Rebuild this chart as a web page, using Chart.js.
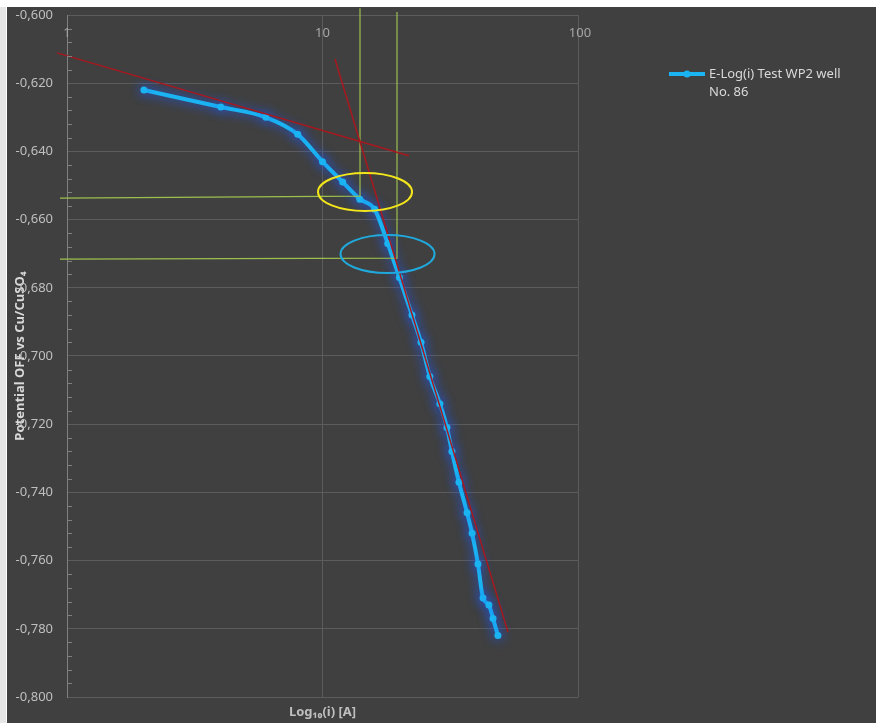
<!DOCTYPE html>
<html lang="en">
<head>
  <meta charset="UTF-8" />
  <title>E-Log(i) Test WP2 well No. 86</title>
  <script src="https://cdn.jsdelivr.net/npm/chart.js"></script>
  <style>
    html, body { margin: 0; padding: 0; background: #fff; }
    #wrap { width: 876px; height: 723px; }
  </style>
</head>
<body>
  <div id="wrap"><canvas id="grafico" width="876" height="723"></canvas></div>

  <script>
    // measured series: current (A) vs potential (V)
    const currentA = [2, 4, 6, 8, 10, 12, 14, 16, 18, 20, 22.4, 24.3, 26.3, 28.8, 30.7, 32.1, 34.2, 36.8, 38.5, 40.6, 42.5, 44.8, 46.5, 48.6];
    const potentialV = [-0.622, -0.627, -0.630, -0.635, -0.643, -0.649, -0.654, -0.657, -0.667, -0.677, -0.688, -0.696, -0.706, -0.714, -0.721, -0.728, -0.737, -0.746, -0.752, -0.761, -0.771, -0.773, -0.777, -0.782];

    // tangents (red)
    const tangentAX = [0.914, 21.8];
    const tangentAY = [-0.6111, -0.6413];
    const tangentBX = [11.19, 53.2];
    const tangentBY = [-0.6129, -0.7809];

    // guide lines (green)
    const guide1X = [0.939, 14.02, 14.02];
    const guide1Y = [-0.6537, -0.6531, -0.598];
    const guide2X = [0.939, 19.57, 19.57];
    const guide2Y = [-0.6716, -0.6713, -0.5991];

    // ellipse markers: centres in data units
    const ellipseX = [14.67, 17.97];
    const ellipseY = [-0.6519, -0.6701];
    const ellipseColors = ['#f2e51a', '#1fa9dc'];

    const xTicks = [1, 10, 100];
    const legendText = 'E-Log(i) Test WP2 well No. 86';

    const pts = (xs, ys) => xs.map((x, i) => ({ x: x, y: ys[i] }));
    const fmt = v => v.toFixed(3).replace('.', ',');
    const FONT = "'Noto Sans', sans-serif";

    const fundo = {
      id: 'fundo',
      beforeDraw(chart) {
        const ctx = chart.ctx;
        ctx.save();
        ctx.fillStyle = '#ffffff';
        ctx.fillRect(0, 0, chart.width, chart.height);
        ctx.fillStyle = '#e6e6e6';
        ctx.fillRect(0, 7, 6, chart.height);
        ctx.fillStyle = '#404040';
        ctx.fillRect(7, 7, chart.width - 7, chart.height - 7);
        ctx.restore();
      }
    };

    const brilho = {
      id: 'brilho',
      beforeDatasetDraw(chart, args) {
        if (args.index !== 0) return;
        chart.ctx.save();
        chart.ctx.shadowColor = 'rgba(30,90,255,1)';
        chart.ctx.shadowBlur = 12;
      },
      afterDatasetDraw(chart, args) {
        if (args.index !== 0) return;
        chart.ctx.restore();
      }
    };

    const extras = {
      id: 'extras',
      afterDraw(chart) {
        const ctx = chart.ctx;
        const xs = chart.scales.x, ys = chart.scales.y;
        const area = chart.chartArea;
        ctx.save();

        // minor ticks on the value axis
        ctx.strokeStyle = '#808080';
        ctx.lineWidth = 1;
        for (let k = 0; k <= 50; k++) {
          if (k % 5 === 0) continue;
          const py = Math.round(ys.getPixelForValue(-0.8 + k * 0.004)) + 0.5;
          ctx.beginPath();
          ctx.moveTo(area.left, py);
          ctx.lineTo(area.left + 5, py);
          ctx.stroke();
        }

        // x labels sit under the top edge
        ctx.fillStyle = '#a6a6a6';
        ctx.font = '13px ' + FONT;
        ctx.textAlign = 'center';
        ctx.textBaseline = 'middle';
        xTicks.forEach(t => ctx.fillText(String(t), xs.getPixelForValue(t) + (t === 100 ? 2 : 0), area.top + 18));

        // ellipses
        ctx.lineWidth = 2;
        ellipseX.forEach((ex, i) => {
          ctx.strokeStyle = ellipseColors[i];
          ctx.beginPath();
          ctx.ellipse(xs.getPixelForValue(ex), ys.getPixelForValue(ellipseY[i]), 47, 19, 0, 0, Math.PI * 2);
          ctx.stroke();
        });

        // legend
        const ds = chart.data.datasets[0];
        const ly = 74;
        ctx.strokeStyle = ds.borderColor;
        ctx.lineWidth = 4;
        ctx.beginPath();
        ctx.moveTo(669, ly);
        ctx.lineTo(705, ly);
        ctx.stroke();
        ctx.fillStyle = ds.borderColor;
        ctx.beginPath();
        ctx.arc(687, ly, 3.5, 0, Math.PI * 2);
        ctx.fill();
        ctx.fillStyle = '#d9d9d9';
        ctx.textAlign = 'left';
        const palavras = legendText.split(' ');
        let linha = '', linhas = [];
        palavras.forEach(p => {
          const teste = linha ? linha + ' ' + p : p;
          if (ctx.measureText(teste).width > 150 && linha) { linhas.push(linha); linha = p; }
          else linha = teste;
        });
        linhas.push(linha);
        linhas.forEach((l, i) => ctx.fillText(l, 709, ly + i * 18));

        ctx.restore();
      }
    };

    const linhaGuia = (data, cor, largura) => ({
      data: data, borderColor: cor, borderWidth: largura, pointRadius: 0,
      tension: 0, clip: false, order: 1
    });

    new Chart(document.getElementById('grafico'), {
      type: 'line',
      data: {
        datasets: [
          {
            label: legendText,
            data: pts(currentA, potentialV),
            borderColor: '#1ab4f2',
            backgroundColor: '#1ab4f2',
            borderWidth: 4,
            pointRadius: 3.5,
            pointBorderWidth: 0,
            pointBackgroundColor: '#1ab4f2',
            cubicInterpolationMode: 'monotone',
            order: 2
          },
          linhaGuia(pts(tangentAX, tangentAY), '#a8181f', 1.5),
          linhaGuia(pts(tangentBX, tangentBY), '#a8181f', 1.5),
          linhaGuia(pts(guide1X, guide1Y), '#9cbf4e', 1.2),
          linhaGuia(pts(guide2X, guide2Y), '#9cbf4e', 1.2)
        ]
      },
      options: {
        responsive: false,
        animation: false,
        layout: { padding: { left: 7, top: 15, right: 298, bottom: 0 } },
        plugins: { legend: { display: false }, tooltip: { enabled: false } },
        scales: {
          x: {
            type: 'logarithmic',
            min: 1, max: 100,
            afterBuildTicks: s => { s.ticks = xTicks.map(v => ({ value: v })); },
            afterFit: s => { s.height = 26; s.paddingLeft = 0; s.paddingRight = 0; },
            ticks: { display: false },
            grid: { color: '#5c5c5c', drawTicks: false },
            border: { display: false },
            title: {
              display: true, text: 'Log₁₀(i) [A]', color: '#bfbfbf',
              font: { family: FONT, size: 13, weight: 'bold' },
              padding: { top: 4, bottom: 3 }
            }
          },
          y: {
            min: -0.8, max: -0.6,
            afterFit: s => { s.width = 60; s.paddingTop = 0; s.paddingBottom = 0; },
            ticks: {
              stepSize: 0.02, padding: 14, color: '#bfbfbf',
              font: { family: FONT, size: 13 },
              callback: v => fmt(v)
            },
            grid: { color: '#5c5c5c', drawTicks: false },
            border: { color: '#808080' },
            title: {
              display: true, text: 'Potential OFF vs Cu/CuSO₄', color: '#d9d9d9',
              font: { family: FONT, size: 13, weight: 'bold' },
              padding: { top: 5, bottom: 0 }
            }
          }
        }
      },
      plugins: [fundo, brilho, extras]
    });
  </script>
</body>
</html>
